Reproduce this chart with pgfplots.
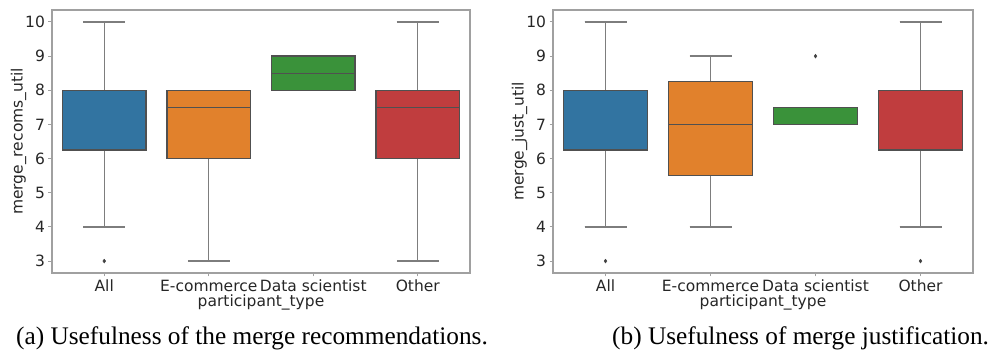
\documentclass[border=0pt]{standalone}
\usepackage{fontspec}
\setmainfont{Liberation Serif}
\newfontfamily\dejavu{DejaVu Sans}
\usepackage{pgfplots}
\pgfplotsset{compat=1.18}
\usepgfplotslibrary{statistics}

% seaborn-style palette (saturation 0.75)
\definecolor{sbblue}{RGB}{50,116,161}
\definecolor{sborange}{RGB}{225,129,44}
\definecolor{sbgreen}{RGB}{58,146,58}
\definecolor{sbred}{RGB}{192,61,62}
\definecolor{edge}{RGB}{80,80,80}
\definecolor{whisk}{RGB}{125,125,125}
\definecolor{frame}{RGB}{160,160,160}

\pgfplotsset{
  panel/.style={
    scale only axis,
    anchor=south west,
    height=263pt,
    xmin=-0.5, xmax=3.5,
    ymin=2.65, ymax=10.35,
    xtick={0,1,2,3},
    xticklabels={All,E-commerce,Data scientist,Other},
    ytick={3,4,5,6,7,8,9,10},
    /pgf/number format/assume math mode=true,
    tick label style={font=\dejavu\fontsize{15.5}{18}\selectfont, text=black!85},
    label style={font=\dejavu\fontsize{15.5}{18}\selectfont, text=black!85},
    axis line style={frame, line width=1.2pt},
    tick style={frame, line width=1pt},
    tick align=outside,
    major tick length=3.5pt,
    xtick pos=bottom, ytick pos=left,
    xlabel={participant\_type},
    xlabel style={yshift=4pt},
    ylabel style={yshift=-8pt},
    boxplot/draw direction=y,
  },
  bx/.style={
    boxplot prepared={#1, box extend=0.8, whisker extend=0.4},
    draw=edge, line width=1.3pt,
    boxplot/every whisker/.style={draw=whisk, line width=1.4pt},
    boxplot/every median/.style={draw=edge, line width=1.3pt},
    mark=diamond*, mark size=2pt,
    mark options={fill=black!75, draw=black!75, line width=0.3pt},
  },
}

\begin{document}
\begin{tikzpicture}
\path (0pt,0pt) rectangle (1003pt,352pt);

% (a) usefulness of the merge recommendations
\begin{axis}[panel, at={(52pt,79pt)}, width=418pt, ylabel={merge\_recoms\_util}]
\addplot[bx={draw position=0, lower whisker=4, lower quartile=6.25, median=8, upper quartile=8, upper whisker=10}, fill=sbblue]
  coordinates {(0,3)};
\addplot[bx={draw position=1, lower whisker=3, lower quartile=6, median=7.5, upper quartile=8, upper whisker=8}, fill=sborange]
  coordinates {};
\addplot[bx={draw position=2, lower whisker=8, lower quartile=8, median=8.5, upper quartile=9, upper whisker=9}, fill=sbgreen]
  coordinates {};
\addplot[bx={draw position=3, lower whisker=3, lower quartile=6, median=7.5, upper quartile=8, upper whisker=10}, fill=sbred]
  coordinates {};
\end{axis}

% (b) usefulness of merge justification
\begin{axis}[panel, at={(553pt,79pt)}, width=420pt, ylabel={merge\_just\_util}]
\addplot[bx={draw position=0, lower whisker=4, lower quartile=6.25, median=8, upper quartile=8, upper whisker=10}, fill=sbblue]
  coordinates {(0,3)};
\addplot[bx={draw position=1, lower whisker=4, lower quartile=5.5, median=7, upper quartile=8.25, upper whisker=9}, fill=sborange]
  coordinates {};
\addplot[bx={draw position=2, lower whisker=7, lower quartile=7, median=7.5, upper quartile=7.5, upper whisker=7.5}, fill=sbgreen]
  coordinates {(2,9)};
\addplot[bx={draw position=3, lower whisker=4, lower quartile=6.25, median=8, upper quartile=8, upper whisker=10}, fill=sbred]
  coordinates {(3,3)};
\end{axis}

\node[anchor=base west, inner sep=0pt, font=\fontsize{25.3}{28}\selectfont] at (16pt,7pt)
  {(a) Usefulness of the merge recommendations.};
\node[anchor=base west, inner sep=0pt, font=\fontsize{25.3}{28}\selectfont] at (612pt,7pt)
  {(b) Usefulness of merge justification.};
\end{tikzpicture}
\end{document}
